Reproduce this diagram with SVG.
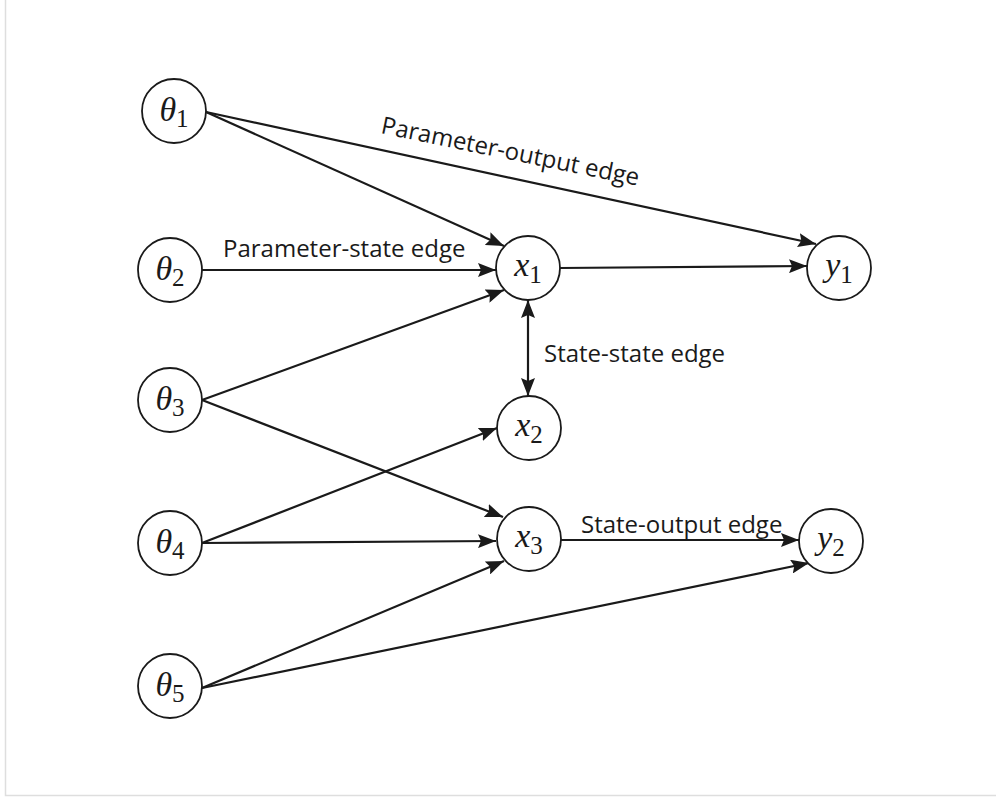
<svg xmlns="http://www.w3.org/2000/svg" width="996" height="799" viewBox="0 0 996 799">
<style>
.node circle{fill:#fff;stroke:#1a1a1a;stroke-width:1.8}
.m{font-family:"Liberation Serif",serif;font-style:italic;font-size:34px;fill:#1a1a1a}
.s{font-style:normal;font-size:25px}
.e{stroke:#1a1a1a;stroke-width:2.2;fill:none}
.lbl{font-family:"Open Sans","Liberation Sans",sans-serif;font-size:24px;fill:#1a1a1a}
</style>
<defs>
<marker id="ah" markerUnits="userSpaceOnUse" markerWidth="20" markerHeight="14" refX="18" refY="7" orient="auto">
<path d="M0,0 L18,7 L0,14 L3,7 z" fill="#1a1a1a"/>
</marker>
<marker id="as" markerUnits="userSpaceOnUse" markerWidth="20" markerHeight="14" refX="18" refY="7" orient="auto-start-reverse">
<path d="M0,0 L18,7 L0,14 L3,7 z" fill="#1a1a1a"/>
</marker>
</defs>
<rect width="996" height="799" fill="#fff"/>
<path d="M5.5,0 V795.5 H996" stroke="#dedede" stroke-width="1.5" fill="none"/>
<g id="connectors">
<line class="e" x1="206" y1="112" x2="504" y2="246" marker-end="url(#ah)"/>
<line class="e" x1="206" y1="112" x2="816" y2="244" marker-end="url(#ah)"/>
<line class="e" x1="202" y1="270" x2="496" y2="270" marker-end="url(#ah)"/>
<line class="e" x1="202" y1="400" x2="504" y2="290" marker-end="url(#ah)"/>
<line class="e" x1="202" y1="400" x2="503" y2="517" marker-end="url(#ah)"/>
<line class="e" x1="202" y1="543" x2="497" y2="428" marker-end="url(#ah)"/>
<line class="e" x1="202" y1="543" x2="496" y2="541" marker-end="url(#ah)"/>
<line class="e" x1="202" y1="688" x2="504" y2="561" marker-end="url(#ah)"/>
<line class="e" x1="202" y1="688" x2="809" y2="563" marker-end="url(#ah)"/>
<line class="e" x1="560" y1="268" x2="807" y2="266" marker-end="url(#ah)"/>
<line class="e" x1="528" y1="300" x2="528" y2="396" marker-start="url(#as)" marker-end="url(#ah)"/>
<line class="e" x1="561" y1="540" x2="799" y2="540" marker-end="url(#ah)"/>
<text class="lbl" x="223" y="257">Parameter-state edge</text>
<text class="lbl" transform="translate(380,133) rotate(11.6)">Parameter-output edge</text>
<text class="lbl" x="544" y="362">State-state edge</text>
<text class="lbl" x="581" y="533">State-output edge</text>
</g>
<g id="theta1" class="node"><circle cx="174" cy="111" r="32"/><text class="m" x="174" y="121" text-anchor="middle">θ<tspan class="s" dy="6">1</tspan></text></g>
<g id="theta2" class="node"><circle cx="170" cy="270" r="32"/><text class="m" x="170" y="280" text-anchor="middle">θ<tspan class="s" dy="6">2</tspan></text></g>
<g id="theta3" class="node"><circle cx="170" cy="400" r="32"/><text class="m" x="170" y="410" text-anchor="middle">θ<tspan class="s" dy="6">3</tspan></text></g>
<g id="theta4" class="node"><circle cx="170" cy="543" r="32"/><text class="m" x="170" y="553" text-anchor="middle">θ<tspan class="s" dy="6">4</tspan></text></g>
<g id="theta5" class="node"><circle cx="170" cy="686" r="32"/><text class="m" x="170" y="696" text-anchor="middle">θ<tspan class="s" dy="6">5</tspan></text></g>
<g id="x1" class="node"><circle cx="528" cy="268" r="32"/><text class="m" x="528" y="276" text-anchor="middle">x<tspan class="s" dy="7">1</tspan></text></g>
<g id="x2" class="node"><circle cx="529" cy="428" r="32"/><text class="m" x="529" y="436" text-anchor="middle">x<tspan class="s" dy="7">2</tspan></text></g>
<g id="x3" class="node"><circle cx="529" cy="539" r="32"/><text class="m" x="529" y="547" text-anchor="middle">x<tspan class="s" dy="7">3</tspan></text></g>
<g id="y1" class="node"><circle cx="839" cy="268" r="32"/><text class="m" x="839" y="276" text-anchor="middle">y<tspan class="s" dy="7">1</tspan></text></g>
<g id="y2" class="node"><circle cx="831" cy="541" r="32"/><text class="m" x="831" y="549" text-anchor="middle">y<tspan class="s" dy="7">2</tspan></text></g>
</svg>
